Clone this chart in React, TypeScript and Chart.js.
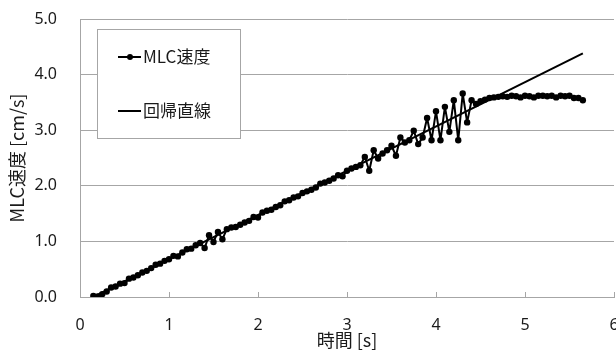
import React, { useEffect, useRef } from "react";
import { Chart, registerables } from "chart.js";

Chart.register(...registerables);

// ---- data ----
const timeS = [
  0.15, 0.2, 0.25, 0.3, 0.35, 0.4, 0.45, 0.5, 0.55, 0.6,
  0.65, 0.7, 0.75, 0.8, 0.85, 0.9, 0.95, 1.0, 1.05, 1.1,
  1.15, 1.2, 1.25, 1.3, 1.35, 1.4, 1.45, 1.5, 1.55, 1.6,
  1.65, 1.7, 1.75, 1.8, 1.85, 1.9, 1.95, 2.0, 2.05, 2.1,
  2.15, 2.2, 2.25, 2.3, 2.35, 2.4, 2.45, 2.5, 2.55, 2.6,
  2.65, 2.7, 2.75, 2.8, 2.85, 2.9, 2.95, 3.0, 3.05, 3.1,
  3.15, 3.2, 3.25, 3.3, 3.35, 3.4, 3.45, 3.5, 3.55, 3.6,
  3.65, 3.7, 3.75, 3.8, 3.85, 3.9, 3.95, 4.0, 4.05, 4.1,
  4.15, 4.2, 4.25, 4.3, 4.35, 4.4, 4.45, 4.5, 4.55, 4.6,
  4.65, 4.7, 4.75, 4.8, 4.85, 4.9, 4.95, 5.0, 5.05, 5.1,
  5.15, 5.2, 5.25, 5.3, 5.35, 5.4, 5.45, 5.5, 5.55, 5.6,
  5.65,
];
const mlcSpeed = [
  0.02, 0.01, 0.05, 0.1, 0.17, 0.19, 0.24, 0.25, 0.33, 0.35,
  0.39, 0.44, 0.47, 0.52, 0.58, 0.6, 0.65, 0.68, 0.74, 0.73,
  0.8, 0.86, 0.87, 0.93, 0.97, 0.88, 1.11, 0.99, 1.17, 1.04,
  1.22, 1.25, 1.26, 1.3, 1.34, 1.37, 1.44, 1.43, 1.52, 1.55,
  1.57, 1.62, 1.65, 1.72, 1.74, 1.79, 1.81, 1.87, 1.9, 1.93,
  1.97, 2.04, 2.06, 2.09, 2.13, 2.19, 2.17, 2.27, 2.31, 2.34,
  2.37, 2.52, 2.27, 2.64, 2.49, 2.58, 2.64, 2.72, 2.54, 2.87,
  2.78, 2.82, 2.99, 2.75, 2.87, 3.22, 2.82, 3.34, 2.82, 3.42,
  2.97, 3.54, 2.82, 3.66, 3.14, 3.54, 3.47, 3.52, 3.55, 3.58,
  3.59, 3.6, 3.61, 3.6, 3.62, 3.61, 3.59, 3.62, 3.61, 3.59,
  3.62, 3.62, 3.61, 3.62, 3.59, 3.62, 3.61, 3.62, 3.58, 3.58,
  3.54,
];
const fitTime = [0.15, 5.65];
const fitSpeed = [0.0, 4.38];
const seriesNames = ["MLC速度", "回帰直線"];
const xTitle = "時間 [s]";
const yTitle = "MLC速度 [cm/s]";
const xTickValues = [0, 1, 2, 3, 4, 5, 6];
const yTickValues = [0, 1, 2, 3, 4, 5];

const GRID = "#a6a6a6";
const TEXT = "#1a1a1a";
const FONT = "'Noto Sans', 'Noto Sans CJK JP', sans-serif";
const CJK = "'Noto Sans CJK JP', 'Noto Sans', sans-serif";

const legendBox = {
  id: "legendBox",
  afterDraw(chart: any) {
    const ctx = chart.ctx as CanvasRenderingContext2D;
    ctx.save();
    const bx = 97, by = 29, bw = 143, bh = 109;
    ctx.fillStyle = "#ffffff";
    ctx.fillRect(bx, by, bw, bh);
    ctx.strokeStyle = GRID;
    ctx.lineWidth = 1;
    ctx.strokeRect(bx + 0.5, by + 0.5, bw, bh);
    const rows = [57, 111];
    rows.forEach((ry, i) => {
      ctx.strokeStyle = "#000";
      ctx.lineWidth = 2;
      ctx.beginPath();
      ctx.moveTo(118, ry);
      ctx.lineTo(141, ry);
      ctx.stroke();
      if (i === 0) {
        ctx.fillStyle = "#000";
        ctx.beginPath();
        ctx.arc(130, ry, 3, 0, Math.PI * 2);
        ctx.fill();
      }
      ctx.fillStyle = TEXT;
      ctx.font = `17px ${CJK}`;
      ctx.textBaseline = "middle";
      ctx.textAlign = "left";
      ctx.fillText(seriesNames[i], 143, ry);
    });
    ctx.restore();
  },
};

export default function App() {
  const ref = useRef<HTMLCanvasElement | null>(null);

  useEffect(() => {
    if (!ref.current) return;
    const chart = new Chart(ref.current, {
      type: "scatter",
      data: {
        datasets: [
          {
            label: seriesNames[0],
            data: timeS.map((t, i) => ({ x: t, y: mlcSpeed[i] })),
            showLine: true,
            borderColor: "#000",
            backgroundColor: "#000",
            borderWidth: 2,
            borderJoinStyle: "round",
            borderCapStyle: "round",
            pointRadius: 3.2,
            pointBorderWidth: 0,
            pointBackgroundColor: "#000",
          },
          {
            label: seriesNames[1],
            data: fitTime.map((t, i) => ({ x: t, y: fitSpeed[i] })),
            showLine: true,
            borderColor: "#000",
            borderWidth: 2,
            pointRadius: 0,
          },
        ],
      },
      options: {
        responsive: false,
        animation: false,
        devicePixelRatio: 1,
        layout: { padding: { top: 19, right: 4, left: 0, bottom: 0 } },
        plugins: {
          legend: { display: false },
          tooltip: { enabled: false },
        },
        scales: {
          x: {
            type: "linear",
            min: 0,
            max: 6,
            afterBuildTicks: (scale: any) => {
              scale.ticks = xTickValues.map((v) => ({ value: v }));
            },
            afterFit: (scale: any) => {
              scale.height = 61;
              scale.paddingLeft = 0;
              scale.paddingRight = 0;
            },
            ticks: {
              color: TEXT,
              font: { family: FONT, size: 16 },
              padding: 24,
              callback: (v: any) => String(v),
            },
            grid: {
              drawOnChartArea: false,
              drawTicks: true,
              tickLength: -5,
              color: GRID,
            },
            border: { display: true, color: GRID, width: 1 },
            title: {
              display: true,
              text: xTitle,
              color: TEXT,
              font: { family: CJK, size: 18 },
              padding: { top: 0, bottom: 7 },
            },
          },
          y: {
            type: "linear",
            min: 0,
            max: 5,
            afterBuildTicks: (scale: any) => {
              scale.ticks = yTickValues.map((v) => ({ value: v }));
            },
            afterFit: (scale: any) => {
              scale.width = 80;
              scale.paddingTop = 0;
              scale.paddingBottom = 0;
            },
            ticks: {
              color: TEXT,
              font: { family: FONT, size: 16 },
              padding: 23,
              callback: (v: any) => Number(v).toFixed(1),
            },
            grid: {
              drawTicks: false,
              color: GRID,
            },
            border: { display: true, color: GRID, width: 1 },
            title: {
              display: true,
              text: yTitle,
              color: TEXT,
              font: { family: CJK, size: 18 },
              padding: { top: 6, bottom: 0 },
            },
          },
        },
      },
      plugins: [legendBox],
    });
    return () => chart.destroy();
  }, []);

  return (
    <div
      style={{
        position: "fixed",
        left: 0,
        top: 0,
        width: 616,
        height: 358,
        overflow: "hidden",
        background: "#fff",
      }}
    >
      <canvas ref={ref} width={618} height={358} style={{ display: "block" }} />
    </div>
  );
}
